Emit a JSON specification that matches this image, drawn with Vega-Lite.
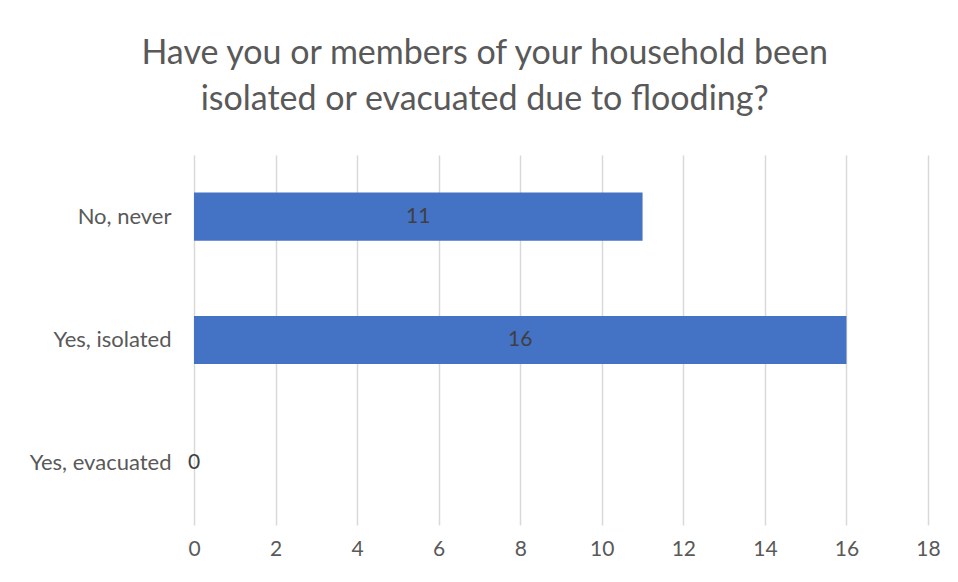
{
  "$schema": "https://vega.github.io/schema/vega-lite/v6.json",
  "width": 734,
  "height": 370,
  "autosize": "none",
  "padding": {"left": 194, "top": 155, "right": 30, "bottom": 57},
  "background": "white",
  "title": {
    "text": ["Have you or members of your household been", "isolated or evacuated due to flooding?"],
    "anchor": "middle",
    "frame": "bounds",
    "font": "Lato",
    "fontSize": 34,
    "fontWeight": "normal",
    "color": "#595959",
    "lineHeight": 46,
    "offset": 38
  },
  "data": {
    "values": [
      {"answer": "No, never", "count": 11},
      {"answer": "Yes, isolated", "count": 16},
      {"answer": "Yes, evacuated", "count": 0}
    ]
  },
  "encoding": {
    "y": {
      "field": "answer",
      "type": "nominal",
      "sort": ["No, never", "Yes, isolated", "Yes, evacuated"],
      "scale": {"paddingInner": 0.61, "paddingOuter": 0.305},
      "axis": {
        "title": null,
        "domain": false,
        "ticks": false,
        "labelPadding": 23,
        "labelFont": "Lato",
        "labelFontSize": 22,
        "labelColor": "#595959"
      }
    }
  },
  "layer": [
    {
      "mark": {"type": "bar", "color": "#4472C4"},
      "encoding": {
        "x": {
          "field": "count",
          "type": "quantitative",
          "scale": {"domain": [0, 18], "nice": false},
          "axis": {
            "title": null,
            "values": [0, 2, 4, 6, 8, 10, 12, 14, 16, 18],
            "domain": false,
            "ticks": false,
            "grid": true,
            "gridColor": "#d9d9d9",
            "gridWidth": 1.5,
            "labelFlush": false,
            "labelPadding": 13,
            "labelFont": "Lato",
            "labelFontSize": 21,
            "labelColor": "#595959"
          }
        }
      }
    },
    {
      "transform": [{"calculate": "datum.count / 2", "as": "mid"}],
      "mark": {"type": "text", "font": "Lato", "fontSize": 21, "color": "#404040", "align": "center", "baseline": "middle"},
      "encoding": {
        "x": {"field": "mid", "type": "quantitative"},
        "text": {"field": "count", "type": "quantitative"}
      }
    }
  ],
  "config": {"view": {"stroke": null}}
}
